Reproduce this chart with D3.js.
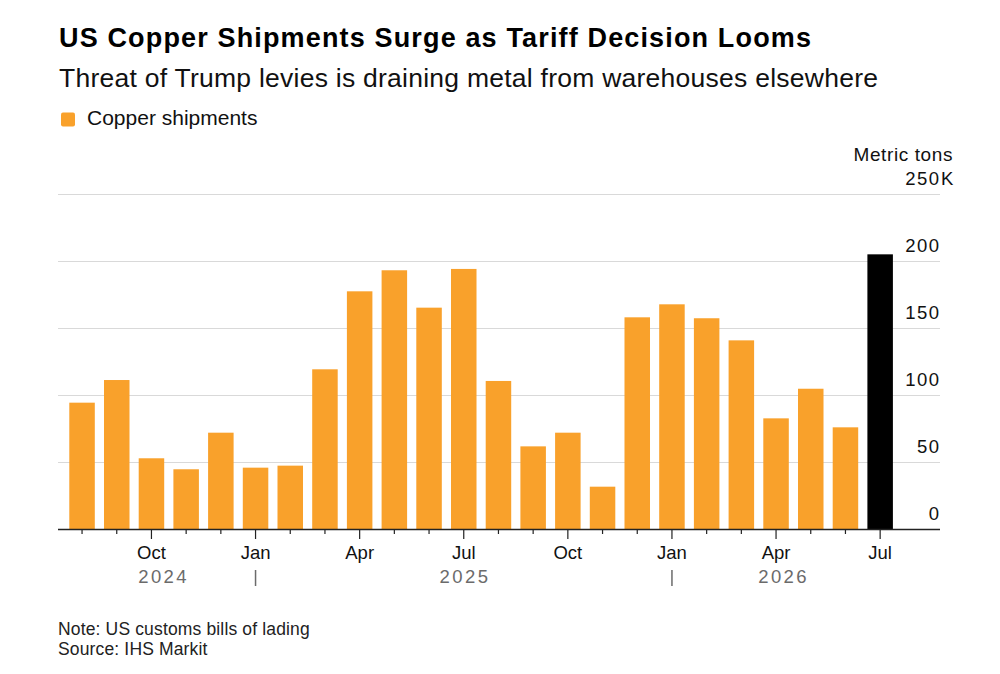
<!DOCTYPE html>
<html>
<head>
<meta charset="utf-8">
<script src="https://cdn.jsdelivr.net/npm/d3@7"></script>
<style>
  html, body { margin: 0; padding: 0; background: #fff; }
  text { font-family: "Liberation Sans", Arial, sans-serif; }
</style>
</head>
<body>
<div id="chart"></div>
<script>
// monthly US copper shipments, thousand metric tons
var months = ["2024-08", "2024-09", "2024-10", "2024-11", "2024-12",
    "2025-01", "2025-02", "2025-03", "2025-04", "2025-05", "2025-06", "2025-07",
    "2025-08", "2025-09", "2025-10", "2025-11", "2025-12",
    "2026-01", "2026-02", "2026-03", "2026-04", "2026-05", "2026-06", "2026-07"];
var shipments = [94.5, 111.4, 53, 44.8, 72.1, 46, 47.5, 119.4, 177.6, 193.3, 165.4, 194.3,
    110.7, 61.9, 72.1, 31.8, 158.2, 167.9, 157.5, 141, 82.8, 104.9, 76.1, 205.2];
var highlightMonth = "2026-07";
var yTicks = [0, 50, 100, 150, 200, 250];
var majorMonths = ["2024-10", "2025-01", "2025-04", "2025-07", "2025-10", "2026-01", "2026-04", "2026-07"];
var years = ["2024", "2025", "2026"];
var yearBreaks = ["2025-01", "2026-01"];

var orange = "#f9a12b";
var parseMonth = d3.timeParse("%Y-%m");
var fmtMonth = d3.timeFormat("%b");

var svg = d3.select("#chart").append("svg")
    .attr("width", 1000)
    .attr("height", 674);

var left = 58, right = 940;

var x = d3.scaleBand()
    .domain(months)
    .range([64.7, 897.5])
    .paddingInner(0.265)
    .paddingOuter(0.1325);
var y = d3.scaleLinear()
    .domain([0, 250])
    .range([529.3, 194.3]);

// titles
svg.append("text")
    .attr("x", 59).attr("y", 47)
    .style("font-size", "27px").style("font-weight", "bold").style("fill", "#000")
    .style("letter-spacing", "1.15px")
    .text("US Copper Shipments Surge as Tariff Decision Looms");
svg.append("text")
    .attr("x", 59).attr("y", 87)
    .style("font-size", "26.5px").style("fill", "#111")
    .style("letter-spacing", "0.25px")
    .text("Threat of Trump levies is draining metal from warehouses elsewhere");

// legend
svg.append("rect")
    .attr("x", 61).attr("y", 112.5).attr("width", 14).attr("height", 14).attr("rx", 2)
    .style("fill", orange);
svg.append("text")
    .attr("x", 87).attr("y", 124.5)
    .style("font-size", "21px").style("fill", "#111")
    .text("Copper shipments");

// gridlines
svg.append("g").selectAll("line")
    .data(yTicks.filter(function(d) { return d > 0; }))
    .enter().append("line")
    .attr("x1", left).attr("x2", right)
    .attr("y1", function(d) { return Math.round(y(d)) + 0.5; })
    .attr("y2", function(d) { return Math.round(y(d)) + 0.5; })
    .style("stroke", "#d9d9d9").style("stroke-width", 1);

svg.append("g").selectAll("text")
    .data(yTicks)
    .enter().append("text")
    .attr("x", 940.5).attr("y", function(d) { return y(d) - 9.5; })
    .attr("text-anchor", "end")
    .style("font-size", "18.5px").style("fill", "#111").style("letter-spacing", "1.5px")
    .text(function(d) { return d; });
svg.append("text")
    .attr("x", 941).attr("y", y(250) - 9.5)
    .style("font-size", "18.5px").style("fill", "#111")
    .text("K");
svg.append("text")
    .attr("x", 953).attr("y", 161)
    .attr("text-anchor", "end")
    .style("font-size", "19px").style("fill", "#111").style("letter-spacing", "0.6px")
    .text("Metric tons");

// bars
svg.append("g").selectAll("rect")
    .data(months)
    .enter().append("rect")
    .attr("x", function(d) { return x(d); })
    .attr("width", x.bandwidth())
    .attr("y", function(d, i) { return y(shipments[i]); })
    .attr("height", function(d, i) { return y(0) - y(shipments[i]); })
    .style("fill", function(d) { return d === highlightMonth ? "#000" : orange; });

// baseline and ticks
svg.append("line")
    .attr("x1", left).attr("x2", right)
    .attr("y1", 529.5).attr("y2", 529.5)
    .style("stroke", "#222").style("stroke-width", 1.5);

function cx(m) { return x(m) + x.bandwidth() / 2; }

svg.append("g").selectAll("line")
    .data(months)
    .enter().append("line")
    .attr("x1", cx).attr("x2", cx)
    .attr("y1", 530)
    .attr("y2", function(d) { return majorMonths.indexOf(d) >= 0 ? 539 : 534; })
    .style("stroke", "#222").style("stroke-width", 1.2);

svg.append("g").selectAll("text")
    .data(majorMonths)
    .enter().append("text")
    .attr("x", cx).attr("y", 559)
    .attr("text-anchor", "middle")
    .style("font-size", "18.5px").style("fill", "#111")
    .text(function(d) { return fmtMonth(parseMonth(d)); });

// year labels centred over the span of bars in each year
var firstX = x(months[0]), lastX = x(months[months.length - 1]) + x.bandwidth();
var bounds = [firstX].concat(yearBreaks.map(cx), [lastX]);
svg.append("g").selectAll("text")
    .data(years)
    .enter().append("text")
    .attr("x", function(d, i) { return (bounds[i] + bounds[i + 1]) / 2 + 1.2; })
    .attr("y", 583)
    .attr("text-anchor", "middle")
    .style("font-size", "18.5px").style("fill", "#6b6b6b").style("letter-spacing", "2.4px")
    .text(function(d) { return d; });
svg.append("g").selectAll("line")
    .data(yearBreaks)
    .enter().append("line")
    .attr("x1", cx).attr("x2", cx)
    .attr("y1", 570).attr("y2", 586)
    .style("stroke", "#6b6b6b").style("stroke-width", 1.5);

// footnotes
svg.append("text")
    .attr("x", 58).attr("y", 635)
    .style("font-size", "17.5px").style("fill", "#222").style("letter-spacing", "0.15px")
    .text("Note: US customs bills of lading");
svg.append("text")
    .attr("x", 58).attr("y", 655)
    .style("font-size", "17.5px").style("fill", "#222").style("letter-spacing", "0.15px")
    .text("Source: IHS Markit");
</script>
</body>
</html>
